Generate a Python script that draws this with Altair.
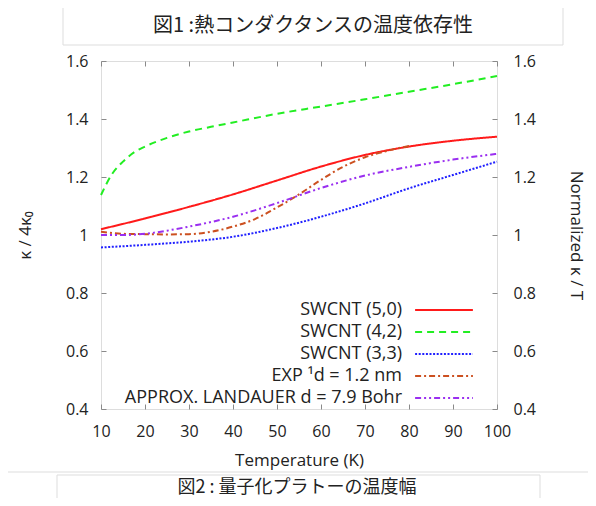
import altair as alt
import pandas as pd

# ---- data ----
TITLE = "図1 :熱コンダクタンスの温度依存性"
CAPTION = "図2 : 量子化プラトーの温度幅"

series_names = [
    "SWCNT (5,0)",
    "SWCNT (4,2)",
    "SWCNT (3,3)",
    "EXP ¹d = 1.2 nm",
    "APPROX. LANDAUER d = 7.9 Bohr",
]
series_colors = ["#ff1a1a", "#22ee22", "#2020ff", "#cc5020", "#9a2ff0"]
series_dashes = [[1, 0], [7, 5], [2, 1.6], [6, 3, 2, 3], [6, 3, 2, 3, 2, 3]]

T_red = [10, 20, 30, 40, 50, 60, 70, 80, 90, 100]
swcnt50 = [1.020, 1.057, 1.097, 1.140, 1.188, 1.236, 1.276, 1.305, 1.325, 1.339]

T_green = [10, 12.5, 15, 17.5, 20, 25, 30, 35, 40, 50, 60, 70, 80, 90, 100]
swcnt42 = [1.138, 1.210, 1.253, 1.285, 1.305, 1.335, 1.357, 1.373, 1.388, 1.418, 1.443, 1.468, 1.494, 1.520, 1.548]

T_blue = [10, 20, 30, 40, 50, 60, 70, 80, 90, 100]
swcnt33 = [0.957, 0.966, 0.977, 0.994, 1.024, 1.063, 1.109, 1.161, 1.207, 1.253]

T_exp = [10, 13, 15, 20, 25, 30, 35, 40, 45, 50, 55, 60, 65, 70, 75, 80]
exp_vals = [1.011, 1.006, 1.004, 1.003, 1.002, 1.003, 1.011, 1.029, 1.055, 1.095, 1.140, 1.190, 1.235, 1.268, 1.290, 1.307]

T_lan = [10, 15, 20, 25, 30, 40, 50, 60, 70, 80, 90, 100]
landauer = [1.000, 1.000, 1.004, 1.015, 1.029, 1.063, 1.110, 1.162, 1.205, 1.235, 1.260, 1.280]

x_ticks = [10, 20, 30, 40, 50, 60, 70, 80, 90, 100]
y_ticks = [0.4, 0.6, 0.8, 1.0, 1.2, 1.4, 1.6]

# ---- table ----
rows = []
for name, ts, vals in zip(
    series_names,
    [T_red, T_green, T_blue, T_exp, T_lan],
    [swcnt50, swcnt42, swcnt33, exp_vals, landauer],
):
    for t, v in zip(ts, vals):
        rows.append({"T": t, "value": v, "series": name})
df = pd.DataFrame(rows)

W, H = 396, 348
LATIN = "Open Sans"
CJK = "Noto Sans CJK JP"
GRAY = "#8a8a8a"
INWARD = {"expr": "-5"}

# long horizontal line symbol (path spans +-3.4 units -> ~58px at size 289)
legend = alt.Legend(
    orient="none", legendX=333.5, legendY=239.5, title=None,
    labelAlign="right", labelOffset={"expr": "-51.5"},
    symbolType="M-3.4,0H3.4", symbolSize=289, symbolStrokeWidth=2,
    labelFontSize=18, labelFont=LATIN, labelColor="#222",
    rowPadding=3, padding=0, labelLimit=400,
)

xscale = alt.Scale(domain=[10, 100], nice=False, zero=False)
yscale = alt.Scale(domain=[0.4, 1.6], nice=False, zero=False)

tick_style = dict(domain=False, ticks=True, tickSize=INWARD, tickColor=GRAY, tickWidth=1, grid=False)

xaxis_bottom = alt.Axis(
    values=x_ticks, title="Temperature (K)", orient="bottom", labelFlush=False,
    labelPadding=19, labelFontSize=16, labelFont=LATIN, labelColor="#222",
    titleFont=LATIN, titleFontSize=17, titleFontWeight="normal", titleColor="#222",
    titleY=51, titleBaseline="middle", **tick_style,
)
xaxis_top = alt.Axis(values=x_ticks, title=None, orient="top", labels=False, **tick_style)
yaxis_left = alt.Axis(
    values=y_ticks, title="κ / 4κ₀", orient="left",
    format=".2~f", labelPadding=18, labelFontSize=16, labelFont=LATIN, labelColor="#222",
    titleFont=LATIN, titleFontSize=17, titleFontWeight="normal", titleColor="#222",
    titleX=-76, titleY=H / 2, titleAngle=-90, titleAlign="center", titleBaseline="middle",
    **tick_style,
)
yaxis_right = alt.Axis(
    values=y_ticks, title="Normalized κ / T", orient="right",
    format=".2~f", labelPadding=21, labelFontSize=16, labelFont=LATIN, labelColor="#222",
    titleFont=LATIN, titleFontSize=17, titleFontWeight="normal", titleColor="#222",
    titleX=78, titleY=H / 2, titleAngle=90, titleAlign="center", titleBaseline="middle",
    **tick_style,
)

color = alt.Color("series:N", scale=alt.Scale(domain=series_names, range=series_colors),
                  sort=series_names, legend=legend)
dash = alt.StrokeDash("series:N", scale=alt.Scale(domain=series_names, range=series_dashes),
                      sort=series_names, legend=legend)

lines = alt.Chart(df).mark_line(strokeWidth=2, interpolate="monotone").encode(
    x=alt.X("T:Q", scale=xscale, axis=xaxis_bottom),
    y=alt.Y("value:Q", scale=yscale, axis=yaxis_left),
    color=color,
    strokeDash=dash,
    detail="series:N",
)

frame_axes = alt.Chart(df).mark_line(opacity=0).encode(
    x=alt.X("T:Q", scale=xscale, axis=xaxis_top),
    y=alt.Y("value:Q", scale=yscale, axis=yaxis_right),
    detail="series:N",
)

one = pd.DataFrame({"k": [0]})
title_box = alt.Chart(one).mark_rect(filled=False, stroke="#dddddd", strokeWidth=1).encode(
    x=alt.value(-38), x2=alt.value(462), y=alt.value(-54), y2=alt.value(-16))
top_line = alt.Chart(one).mark_rule(stroke="#dddddd", strokeWidth=1).encode(
    x=alt.value(-90), x2=alt.value(495), y=alt.value(-59))
title_text = alt.Chart(one).mark_text(font=CJK, fontSize=20, color="#222", align="center",
                                      baseline="middle").encode(
    x=alt.value(212), y=alt.value(-35), text=alt.value(TITLE))
bottom_line = alt.Chart(one).mark_rule(stroke="#dddddd", strokeWidth=1).encode(
    x=alt.value(-96), x2=alt.value(495), y=alt.value(411))
cap_box = alt.Chart(one).mark_rect(filled=False, stroke="#dddddd", strokeWidth=1).encode(
    x=alt.value(-44), x2=alt.value(439), y=alt.value(414), y2=alt.value(470))
cap_text = alt.Chart(one).mark_text(font=CJK, fontSize=18, color="#222", align="center",
                                    baseline="middle").encode(
    x=alt.value(196), y=alt.value(427), text=alt.value(CAPTION))

chart = alt.layer(
    lines, frame_axes, title_box, top_line, title_text, bottom_line, cap_box, cap_text
).resolve_scale(y="independent").resolve_axis(x="independent", y="independent").properties(
    width=W, height=H,
    autosize=alt.AutoSizeParams(type="none"),
    padding={"left": 93, "top": 53, "right": 91, "bottom": 89},
).configure_view(stroke=GRAY, strokeWidth=1).configure(background="white")

chart.save("out.html", embed_options={"renderer": "svg", "actions": False})
